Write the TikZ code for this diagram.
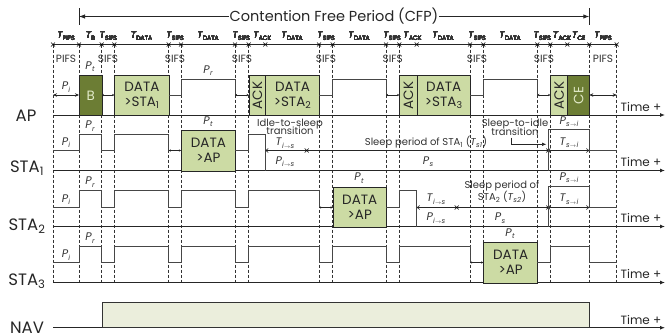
\documentclass[tikz,border=0pt]{standalone}
\usepackage{fontspec}
\setmainfont{Poppins}
\usetikzlibrary{arrows.meta}
\definecolor{dgreen}{RGB}{108,125,52}
\definecolor{lgreen}{RGB}{204,219,164}
\definecolor{navfill}{RGB}{235,238,220}
\definecolor{sigc}{RGB}{70,70,70}
\definecolor{lbltxt}{RGB}{225,233,200}
\newcommand{\Tl}[1]{\textit{T}\kern0.1pt\raisebox{-0.35ex}{\fontsize{6.1}{7}\selectfont #1}}
\newcommand{\Pl}[1]{\textit{P}\kern0.3pt\raisebox{-0.4ex}{\fontsize{7}{7}\selectfont\itshape #1}}
\newcommand{\ar}{\ensuremath{\scriptscriptstyle\rightarrow}}
\newcommand{\xmk}[2]{\draw[line width=0.6pt] (#1,#2) ++(-2,-2) -- ++(4,4) ++(-4,0) -- ++(4,-4);}
\begin{document}
\begin{tikzpicture}[x=1pt,y=-1pt,
  sig/.style={draw=sigc,line width=0.9pt},
  vdash/.style={draw=black!80,line width=0.6pt,dash pattern=on 3pt off 2pt},
  boxl/.style={draw=black!85,line width=0.8pt,fill=lgreen},
  boxd/.style={draw=black!85,line width=0.8pt,fill=dgreen},
  btxt/.style={font=\fontsize{13.5}{15}\selectfont,align=center,text=black!85},
  axis/.style={draw=black!85,line width=0.9pt,-{Latex[length=5pt,width=4pt]}},
  smallarr/.style={draw=black!85,line width=0.6pt,{Stealth[length=2.2pt,width=2.4pt]}-{Stealth[length=2.2pt,width=2.4pt]}},
  midarr/.style={draw=black!85,line width=0.7pt,{Stealth[length=4pt,width=3.5pt]}-{Stealth[length=4pt,width=3.5pt]}},
  rowlbl/.style={font=\fontsize{16.5}{18}\selectfont,text=black!85},
  tlbl/.style={font=\fontsize{9.5}{10}\selectfont,text=black!80,inner sep=0pt},
  slbl/.style={font=\fontsize{10.5}{11}\selectfont,text=black!80,inner sep=0pt},
  plbl/.style={font=\fontsize{11}{12}\selectfont,text=black!80,inner sep=0pt},
  small/.style={font=\fontsize{10}{10.5}\selectfont,text=black!80,inner sep=0pt,align=center},
  timel/.style={font=\fontsize{12}{13}\selectfont,text=black!85,inner sep=0pt}
]
\useasboundingbox (0,0) rectangle (667,335);

% dashed verticals
\foreach \x in {53,79,101.7,114.3,168.7,181,235,248.7,319,332.7,386,399.3,470,483.3,537.3,550.3,589.3,616.7}
  \draw[vdash] (\x,44.5) -- (\x,282.5);

% CFP
\node[font=\fontsize{14.5}{16}\selectfont,text=black!85,inner xsep=1pt] (cfp) at (334,16.5) {Contention Free Period (CFP)};
\coordinate (cfpL) at (79,16.5);
\coordinate (cfpR) at (589.3,16.5);
\draw[line width=0.9pt,black!85] (79,8) -- (79,25) (589.3,8) -- (589.3,25);
\draw[line width=0.9pt,black!85,-{Latex[length=6pt,width=4.5pt]}] (cfp.west) -- (cfpL);
\draw[line width=0.9pt,black!85,-{Latex[length=6pt,width=4.5pt]}] (cfp.east) -- (cfpR);

% ruler
\draw[line width=0.7pt,black!85] (53,44.5) -- (616.7,44.5);
\foreach \x in {53,79,101.7,114.3,168.7,181,235,248.7,265.3,319,332.7,386,399.3,416.7,470,483.3,537.3,550.3,567.3,589.3,616.7}
  \xmk{\x}{44.5}
\foreach \x/\t in {66/PIFS,90.5/B,108.3/SIFS,141.5/DATA,175/SIFS,208/DATA,241.3/SIFS,262.3/ACK,292/DATA,326/SIFS,359/DATA,392/SIFS,412.5/ACK,443/DATA,477/SIFS,510/DATA,542.3/SIFS,562/ACK,578.8/CE,603/PIFS}
  \node[tlbl] at (\x,36) {\Tl{\t}};
\foreach \x/\t in {66/PIFS,108/SIFS,175/SIFS,242/SIFS,326/SIFS,392.7/SIFS,477/SIFS,544/SIFS,603/PIFS}
  \node[slbl] at (\x,58.5) {\t};

% ---------- AP (b=115, Pi=95, Pr=79.5, top=75)
\node[rowlbl] (ap) at (26,116) {AP};
\draw[axis] (53,115) -- (665,115);
\node[timel] at (641,107) {Time +};
\draw[midarr] (53,95) -- (79,95);
\node[plbl] at (66,87) {\Pl{i}};
\node[boxd,minimum width=22.7pt,minimum height=40pt,inner sep=0pt,anchor=north west] (B) at (79,75) {};
\node[font=\fontsize{13.5}{15}\selectfont,text=lbltxt] at (B.center) {B};
\node[plbl] at (90,66.5) {\Pl{t}};
\draw[smallarr] (101.7,95) -- (114.3,95);
\node[boxl,minimum width=54.4pt,minimum height=40pt,inner sep=0pt,anchor=north west] (d1) at (114.3,75) {};
\node[btxt] at (d1.center) {DATA\\{>}STA\textsubscript{1}};
\draw[sig] (168.7,95) -- (181,95) -- (181,79.5) -- (235,79.5) -- (235,95);
\node[plbl] at (208,70.5) {\Pl{r}};
\draw[smallarr] (235,95) -- (248.7,95);
\node[boxl,minimum width=16.6pt,minimum height=40pt,inner sep=0pt,anchor=north west] (a1) at (248.7,75) {};
\node[btxt,rotate=90] at (a1.center) {ACK};
\node[boxl,minimum width=53.7pt,minimum height=40pt,inner sep=0pt,anchor=north west] (d2) at (265.3,75) {};
\node[btxt] at (d2.center) {DATA\\{>}STA\textsubscript{2}};
\draw[sig] (319,95) -- (332.7,95) -- (332.7,79.5) -- (386,79.5) -- (386,95);
\draw[smallarr] (386,95) -- (399.3,95);
\node[boxl,minimum width=17.4pt,minimum height=40pt,inner sep=0pt,anchor=north west] (a2) at (399.3,75) {};
\node[btxt,rotate=90] at (a2.center) {ACK};
\node[boxl,minimum width=53.3pt,minimum height=40pt,inner sep=0pt,anchor=north west] (d3) at (416.7,75) {};
\node[btxt] at (d3.center) {DATA\\{>}STA\textsubscript{3}};
\draw[sig] (470,95) -- (483.3,95) -- (483.3,79.5) -- (537.3,79.5) -- (537.3,95);
\draw[smallarr] (537.3,95) -- (550.3,95);
\node[boxl,minimum width=17pt,minimum height=40pt,inner sep=0pt,anchor=north west] (a3) at (550.3,75) {};
\node[btxt,rotate=90] at (a3.center) {ACK};
\node[boxd,minimum width=22pt,minimum height=40pt,inner sep=0pt,anchor=north west] (ce) at (567.3,75) {};
\node[font=\fontsize{13.5}{15}\selectfont,text=lbltxt,rotate=90] at (ce.center) {CE};
\draw[midarr] (589.3,95) -- (616.7,95);

% ---------- STA1 (b=170.5, Pi=150.5, Pr=134.5, top=129.5)
\node[rowlbl] (s1) at (27,168) {STA\textsubscript{1}};
\draw[axis] (53,170.5) -- (665,170.5);
\node[timel] at (641,162) {Time +};
\draw[sig] (53,150.5) -- (79,150.5) -- (79,134.5) -- (101.7,134.5) -- (101.7,150.5) -- (114.3,150.5) -- (114.3,134.5) -- (168.7,134.5) -- (168.7,150.5);
\node[plbl] at (66,142.5) {\Pl{i}};
\node[plbl] at (90,126) {\Pl{r}};
\draw[smallarr] (168.7,150.5) -- (181,150.5);
\node[boxl,minimum width=54pt,minimum height=41pt,inner sep=0pt,anchor=north west] (u1) at (181,129.5) {};
\node[btxt] at (u1.center) {DATA\\{>}AP};
\node[plbl] at (208,121.5) {\Pl{t}};
\draw[sig] (235,150.5) -- (248.7,150.5) -- (248.7,134.5) -- (265.3,134.5) -- (265.3,170.5);
\node[small] at (290,127) {Idle-to-sleep\\[-2pt]transition};
\draw[line width=0.6pt,black!85,{Straight Barb[length=2.5pt,width=4pt]}-] (265.3,150.5) -- (306.7,150.5);
\xmk{306.7}{150.5}
\node[plbl] at (285,143) {\textit{T}\raisebox{-0.4ex}{\fontsize{7}{7}\selectfont\itshape i\ar s}};
\node[plbl] at (285,161.5) {\textit{P}\raisebox{-0.4ex}{\fontsize{7}{7}\selectfont\itshape i\ar s}};
\draw[line width=0.6pt,black!85] (306.7,150.5) -- (548.3,150.5);
\node[small] at (426,142.5) {Sleep period of STA\textsubscript{1} (\textit{T}\textsubscript{\itshape s1})};
\node[plbl] at (428,161.5) {\Pl{s}};
\xmk{548.3}{150.5}
\draw[line width=0.6pt,black!85,-{Straight Barb[length=2.5pt,width=4pt]}] (548.3,150.5) -- (589.3,150.5);
\node[plbl] at (569,142.5) {\textit{T}\raisebox{-0.4ex}{\fontsize{7}{7}\selectfont\itshape s\ar i}};
\draw[sig] (548.3,170.5) -- (548.3,129.5) -- (589.3,129.5) -- (589.3,150.5) -- (616.7,150.5);
\node[plbl] at (569,121.5) {\textit{P}\raisebox{-0.4ex}{\fontsize{7}{7}\selectfont\itshape s\ar i}};
\node[small] (s2i) at (515,127) {Sleep-to-idle\\[-2pt]transition};
\coordinate (s2iend) at (546.5,144.3);
\draw[line width=0.7pt,black!85,-{Latex[length=4.5pt,width=3.5pt]}] (511.7,137.5) -- (511.7,144.3) -- (s2iend);

% ---------- STA2 (b=226.5, Pi=207.5, Pr=190.5, top=186.5)
\node[rowlbl] (s2) at (27,226) {STA\textsubscript{2}};
\draw[axis] (53,226.5) -- (665,226.5);
\node[timel] at (641,218) {Time +};
\draw[sig] (53,207.5) -- (79,207.5) -- (79,190.5) -- (101.7,190.5) -- (101.7,207.5) -- (114.3,207.5) -- (114.3,190.5) -- (168.7,190.5) -- (168.7,207.5) -- (181,207.5) -- (181,190.5) -- (235,190.5) -- (235,207.5) -- (248.7,207.5) -- (248.7,190.5) -- (319,190.5) -- (319,207.5);
\node[plbl] at (66,199.5) {\Pl{i}};
\node[plbl] at (90,182) {\Pl{r}};
\draw[smallarr] (319,207.5) -- (332.7,207.5);
\node[boxl,minimum width=53.3pt,minimum height=40pt,inner sep=0pt,anchor=north west] (u2) at (332.7,186.5) {};
\node[btxt] at (u2.center) {DATA\\{>}AP};
\node[plbl] at (359,178) {\Pl{t}};
\draw[sig] (386,207.5) -- (399.3,207.5) -- (399.3,190.5) -- (416.7,190.5) -- (416.7,226.5);
\draw[line width=0.6pt,black!85,{Straight Barb[length=2.5pt,width=4pt]}-] (416.7,207.5) -- (456.7,207.5);
\xmk{456.7}{207.5}
\node[plbl] at (436,199) {\textit{T}\raisebox{-0.4ex}{\fontsize{7}{7}\selectfont\itshape i\ar s}};
\node[plbl] at (436,218) {\textit{P}\raisebox{-0.4ex}{\fontsize{7}{7}\selectfont\itshape i\ar s}};
\draw[line width=0.6pt,black!85] (456.7,207.5) -- (548.3,207.5);
\node[small] at (502,192) {Sleep period of\\[-1pt]STA\textsubscript{2} (\textit{T}\textsubscript{\itshape s2})};
\node[plbl] at (500,218) {\Pl{s}};
\xmk{548.3}{207.5}
\draw[line width=0.6pt,black!85,-{Straight Barb[length=2.5pt,width=4pt]}] (548.3,207.5) -- (589.3,207.5);
\node[plbl] at (569,199) {\textit{T}\raisebox{-0.4ex}{\fontsize{7}{7}\selectfont\itshape s\ar i}};
\draw[sig] (548.3,226.5) -- (548.3,186.5) -- (589.3,186.5) -- (589.3,207.5) -- (616.7,207.5);
\node[plbl] at (569,177.5) {\textit{P}\raisebox{-0.4ex}{\fontsize{7}{7}\selectfont\itshape s\ar i}};

% ---------- STA3 (b=282.5, Pi=262.5, Pr=246.5, top=241.5)
\node[rowlbl] (s3) at (27,281) {STA\textsubscript{3}};
\draw[axis] (53,282.5) -- (665,282.5);
\node[timel] at (641,274) {Time +};
\draw[sig] (53,262.5) -- (79,262.5) -- (79,246.5) -- (101.7,246.5) -- (101.7,262.5) -- (114.3,262.5) -- (114.3,246.5) -- (168.7,246.5) -- (168.7,262.5) -- (181,262.5) -- (181,246.5) -- (235,246.5) -- (235,262.5) -- (248.7,262.5) -- (248.7,246.5) -- (319,246.5) -- (319,262.5) -- (332.7,262.5) -- (332.7,246.5) -- (386,246.5) -- (386,262.5) -- (399.3,262.5) -- (399.3,246.5) -- (470,246.5) -- (470,262.5);
\node[plbl] at (66,255) {\Pl{i}};
\node[plbl] at (90,238) {\Pl{r}};
\draw[smallarr] (470,262.5) -- (483.3,262.5);
\node[boxl,minimum width=54pt,minimum height=41pt,inner sep=0pt,anchor=north west] (u3) at (483.3,241.5) {};
\node[btxt] at (u3.center) {DATA\\{>}AP};
\node[plbl] at (510,233.5) {\Pl{t}};
\draw[sig] (537.3,262.5) -- (550.3,262.5) -- (550.3,246.5) -- (589.3,246.5) -- (589.3,262.5) -- (616.7,262.5);

% ---------- NAV
\node[rowlbl] (nav) at (27,328) {NAV};
\draw[axis] (53,327.7) -- (665,327.7);
\node[draw=black!80,line width=0.9pt,fill=navfill,minimum width=487.6pt,minimum height=25pt,inner sep=0pt,anchor=south west] (navbox) at (101.7,327.7) {};
\node[timel] at (641,320) {Time +};
\end{tikzpicture}
\end{document}
